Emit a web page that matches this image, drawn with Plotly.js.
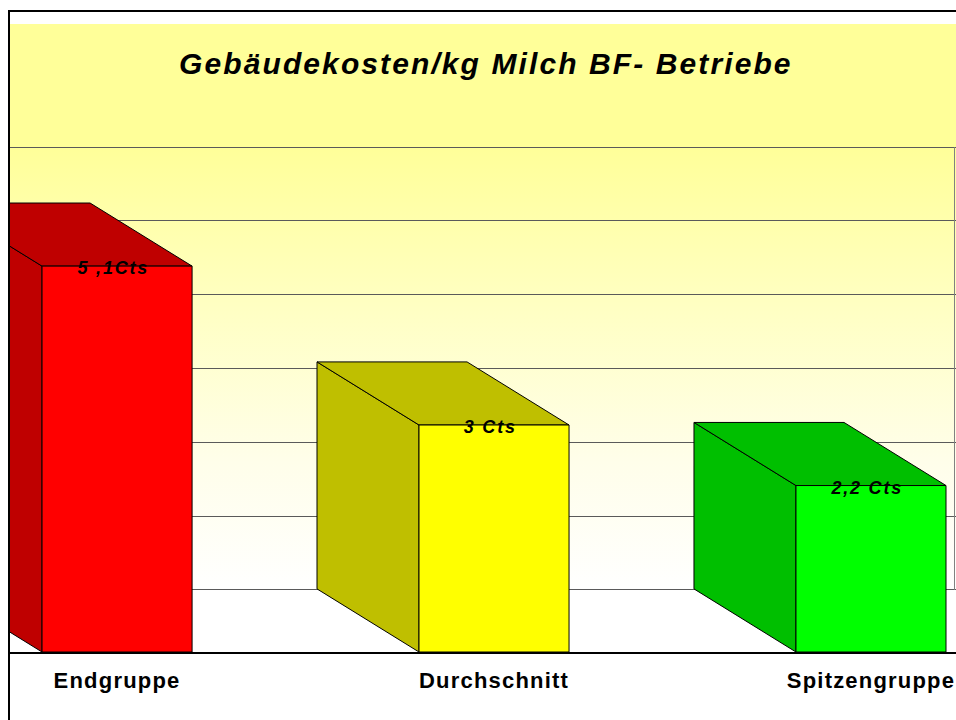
<!DOCTYPE html>
<html>
<head>
<meta charset="utf-8">
<script src="https://cdn.plot.ly/plotly-3.0.1.min.js"></script>
<style>
  html, body { margin: 0; padding: 0; background: #ffffff; }
  #frame {
    position: absolute; left: 8px; top: 10px; width: 1000px; height: 760px;
    border-left: 2px solid #000; border-top: 2px solid #000;
    background: linear-gradient(to bottom, #ffffff 0px, #ffffff 12px, #FFFF99 12px, #FFFF99 135px, #FFFFC4 300px, #FFFEEA 450px, #ffffff 578px, #ffffff 760px);
  }
  #chart { position: absolute; left: 0; top: 0; width: 956px; height: 720px; }
  #chart text.gtitle { letter-spacing: 2.1px; }
  #chart g.xtick text { letter-spacing: 1.2px; }
  #chart g.textpoint text { letter-spacing: 1.8px; }
</style>
</head>
<body>
<div id="frame"></div>
<div id="chart"></div>
<script>
// ---- data ----
const categories = ['Endgruppe', 'Durchschnitt', 'Spitzengruppe'];
const values = [5.1, 3.0, 2.2];
const valueLabels = ['5 ,1Cts', '3 Cts', '2,2 Cts'];
const frontColors = ['#FF0000', '#FFFF00', '#00FF00'];
const sideColors = ['#BF0000', '#BFBF00', '#00BF00'];
const wallGridValues = [0, 1, 2, 3, 4, 5, 6];

// ---- pseudo-3D geometry (axis units) ----
const xRange = [-0.284, 2.2255];
const frontYRange = [0, 8.3];
const wallYRange = [-0.84, 7.666];
const barHalf = 0.199;
const depthX = -0.2706;
const depthY = 0.834;

const traces = [];
// back wall right edge (on wall axis)
const wallEdgeX = xRange[1] - 0.004;
traces.push({
  type: 'scatter', mode: 'lines', xaxis: 'x', yaxis: 'y',
  x: [wallEdgeX, wallEdgeX], y: [wallGridValues[0], wallGridValues[wallGridValues.length - 1]],
  line: { color: '#808080', width: 1 }, hoverinfo: 'skip', showlegend: false
});

const labelX = [], labelY = [];
categories.forEach((c, i) => {
  const v = values[i];
  const xl = i - barHalf, xr = i + barHalf;
  const outline = { color: '#000000', width: 1 };
  traces.push({
    type: 'scatter', mode: 'lines', xaxis: 'x', yaxis: 'y2', fill: 'toself',
    x: [xl, xl, xl + depthX, xl + depthX, xl],
    y: [0, v, v + depthY, depthY, 0],
    fillcolor: sideColors[i], line: outline, hoverinfo: 'skip', showlegend: false
  });
  traces.push({
    type: 'scatter', mode: 'lines', xaxis: 'x', yaxis: 'y2', fill: 'toself',
    x: [xl, xr, xr + depthX, xl + depthX, xl],
    y: [v, v, v + depthY, v + depthY, v],
    fillcolor: sideColors[i], line: outline, hoverinfo: 'skip', showlegend: false
  });
  traces.push({
    type: 'scatter', mode: 'lines', xaxis: 'x', yaxis: 'y2', fill: 'toself',
    x: [xl, xr, xr, xl, xl],
    y: [0, 0, v, v, 0],
    fillcolor: frontColors[i], line: outline, hoverinfo: 'skip', showlegend: false
  });
  labelX.push(i - 0.01);
  labelY.push(v - 0.05);
});

traces.push({
  type: 'scatter', mode: 'text', xaxis: 'x', yaxis: 'y2',
  x: labelX, y: labelY, text: valueLabels, textposition: 'middle center',
  textfont: { family: 'Liberation Sans, Arial, sans-serif', size: 18, color: '#000000', weight: 'bold', style: 'italic' },
  hoverinfo: 'skip', showlegend: false, cliponaxis: false
});

const layout = {
  width: 956, height: 720,
  margin: { l: 10, r: 0, t: 24, b: 68, pad: 0 },
  paper_bgcolor: 'rgba(0,0,0,0)',
  plot_bgcolor: 'rgba(0,0,0,0)',
  showlegend: false,
  title: {
    text: 'Gebäudekosten/kg Milch BF- Betriebe',
    font: { family: 'Liberation Sans, Arial, sans-serif', size: 30, color: '#000000', weight: 'bold', style: 'italic' },
    xref: 'paper', x: 0.503, xanchor: 'center',
    yref: 'container', y: 0.9125, yanchor: 'middle'
  },
  xaxis: {
    range: xRange, anchor: 'y', side: 'bottom',
    tickmode: 'array', tickvals: categories.map((c, i) => i), ticktext: categories,
    ticks: '', showgrid: false, zeroline: false,
    showline: true, linecolor: '#000000', linewidth: 1.5,
    ticklabelstandoff: 8,
    tickfont: { family: 'Liberation Sans, Arial, sans-serif', size: 22, color: '#000000', weight: 'bold' },
    fixedrange: true
  },
  xaxis2: {
    range: xRange, overlaying: 'x', anchor: 'y', side: 'bottom',
    tickmode: 'array', tickvals: categories.slice(1).map((c, i) => i + 0.5),
    ticks: 'outside', ticklen: 8, tickwidth: 1, tickcolor: '#333333',
    showticklabels: false, showgrid: false, zeroline: false, showline: false,
    fixedrange: true
  },
  yaxis: {
    range: wallYRange, tickmode: 'array', tickvals: wallGridValues,
    showticklabels: false, ticks: '', showgrid: true, gridcolor: '#5a5a5a', gridwidth: 1,
    zeroline: false, showline: false, fixedrange: true
  },
  yaxis2: {
    range: frontYRange, overlaying: 'y', side: 'left',
    showticklabels: false, ticks: '', showgrid: false, zeroline: false, showline: false,
    fixedrange: true
  }
};

Plotly.newPlot('chart', traces, layout, { staticPlot: true, displayModeBar: false });
</script>
</body>
</html>
